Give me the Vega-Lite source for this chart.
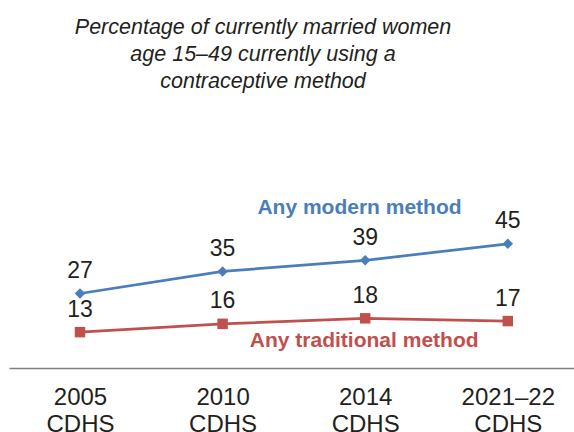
{
  "$schema": "https://vega.github.io/schema/vega-lite/v6.json",
  "width": 565,
  "height": 138,
  "autosize": {"type": "none"},
  "padding": {"left": 9, "top": 230, "right": 0, "bottom": 64},
  "background": "white",
  "config": {"view": {"stroke": null}, "font": "Liberation Sans"},
  "title": {
    "text": ["Percentage of currently married women", "age 15–49 currently using a", "contraceptive method"],
    "fontStyle": "italic",
    "fontWeight": "normal",
    "fontSize": 21.5,
    "lineHeight": 27,
    "color": "#231f20",
    "frame": "group",
    "anchor": "middle",
    "dx": -28.5,
    "offset": 105
  },
  "data": {
    "values": [
      {"period": "2005 CDHS", "series": "Any modern method", "value": 27},
      {"period": "2010 CDHS", "series": "Any modern method", "value": 35},
      {"period": "2014 CDHS", "series": "Any modern method", "value": 39},
      {"period": "2021–22 CDHS", "series": "Any modern method", "value": 45},
      {"period": "2005 CDHS", "series": "Any traditional method", "value": 13},
      {"period": "2010 CDHS", "series": "Any traditional method", "value": 16},
      {"period": "2014 CDHS", "series": "Any traditional method", "value": 18},
      {"period": "2021–22 CDHS", "series": "Any traditional method", "value": 17}
    ]
  },
  "encoding": {
    "x": {
      "field": "period",
      "type": "ordinal",
      "sort": null,
      "scale": {"type": "point", "padding": 0.481, "align": 0.5175},
      "axis": {
        "title": null,
        "ticks": false,
        "tickSize": 0,
        "grid": false,
        "labelAngle": 0,
        "labelFontSize": 24,
        "labelColor": "#231f20",
        "labelPadding": 17,
        "labelLineHeight": 27,
        "labelBaseline": "top",
        "labelExpr": "split(datum.label, ' ')",
        "domainColor": "#808080",
        "domainWidth": 1.3
      }
    },
    "y": {"field": "value", "type": "quantitative", "scale": {"domain": [0, 50]}, "axis": null},
    "color": {
      "field": "series",
      "type": "nominal",
      "scale": {"domain": ["Any modern method", "Any traditional method"], "range": ["#4a7ebb", "#c0504d"]},
      "legend": null
    }
  },
  "layer": [
    {"mark": {"type": "line", "strokeWidth": 2.7}},
    {
      "mark": {"type": "point", "filled": true, "opacity": 1, "size": 110},
      "encoding": {
        "shape": {"field": "series", "type": "nominal", "scale": {"domain": ["Any modern method", "Any traditional method"], "range": ["diamond", "square"]}, "legend": null}
      }
    },
    {
      "mark": {"type": "text", "fontSize": 23, "baseline": "alphabetic", "dy": -15.5, "color": "#231f20"},
      "encoding": {"text": {"field": "value", "type": "quantitative"}, "color": {"value": "#231f20"}}
    },
    {
      "transform": [{"filter": "datum.period === '2014 CDHS' && datum.series === 'Any modern method'"}],
      "mark": {"type": "text", "fontSize": 21, "fontWeight": "bold", "baseline": "alphabetic", "dy": -46, "dx": -5.7},
      "encoding": {"text": {"field": "series"}}
    },
    {
      "transform": [{"filter": "datum.period === '2014 CDHS' && datum.series === 'Any traditional method'"}],
      "mark": {"type": "text", "fontSize": 21, "fontWeight": "bold", "baseline": "alphabetic", "dy": 29, "dx": -1},
      "encoding": {"text": {"field": "series"}}
    }
  ]
}
